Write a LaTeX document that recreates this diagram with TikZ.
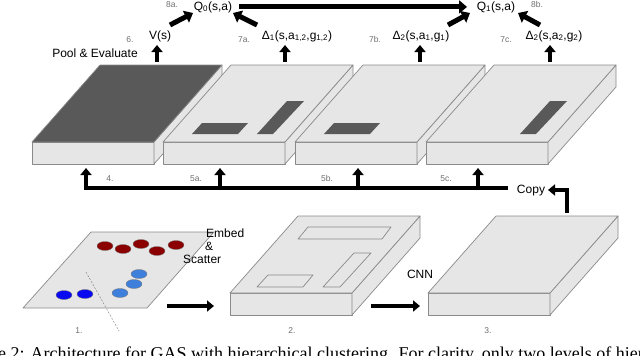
\documentclass[tikz,border=0pt]{standalone}
\usepackage{fontspec}
\setmainfont{Liberation Sans}
\newfontfamily\capfont{Liberation Serif}
\usetikzlibrary{arrows.meta}
\definecolor{facegray}{HTML}{E6E6E6}
\definecolor{edgegray}{HTML}{8A8A8A}
\definecolor{patchgray}{HTML}{595959}
\definecolor{numgray}{HTML}{6E6E6E}
\definecolor{dotred}{HTML}{8B0000}
\definecolor{dotblue}{HTML}{0A0AF0}
\definecolor{dotlblue}{HTML}{3F7FDC}
% slab: #1 front-left x, #2 front-top y, #3 top fill
\newcommand\slab[3]{%
  \filldraw[face] (#1,#2) rectangle ({#1+122},{#2+22});
  \filldraw[face] ({#1+122},#2) -- ({#1+190},{#2-77}) -- ({#1+190},{#2-55}) -- ({#1+122},{#2+22}) -- cycle;
  \filldraw[face,fill=#3] (#1,#2) -- ({#1+122},#2) -- ({#1+190},{#2-77}) -- ({#1+68},{#2-77}) -- cycle;
}
\begin{document}
\begin{tikzpicture}[x=1pt,y=-1pt,
  face/.style={fill=facegray, draw=edgegray, line width=0.7pt, line join=round},
  patch/.style={fill=patchgray},
  outl/.style={draw=edgegray, line width=0.7pt, line join=round},
  lbl/.style={font=\fontsize{12}{14}\selectfont, inner sep=0pt},
  num/.style={font=\fontsize{8.5}{10}\selectfont, text=numgray, inner sep=0pt},
  thk/.style={line width=4pt, line join=miter, -{Triangle[length=7pt,width=11pt]}},
  thkd/.style={line width=5pt, -{Triangle[length=8pt,width=13pt]}},
  dot/.style={draw=black!55, line width=0.3pt}]
\useasboundingbox (0,0) rectangle (640,356);

% ---------- top row of slabs ----------
\slab{32}{142}{patchgray}
\slab{163}{142}{facegray}
\slab{295}{142}{facegray}
\slab{426}{142}{facegray}
\fill[patch] (192,134) -- (238,134) -- (248,123) -- (202,123) -- cycle;
\fill[patch] (257,134) -- (273,134) -- (304,101) -- (287,101) -- cycle;
\fill[patch] (324,134) -- (370,134) -- (380,123) -- (334,123) -- cycle;
\fill[patch] (520,134) -- (536,134) -- (567,101) -- (550,101) -- cycle;

% ---------- bottom row ----------
\filldraw[face] (23,308) -- (147,308) -- (214,232) -- (91,232) -- cycle;
\draw[edgegray, dash pattern=on 2pt off 1.5pt, line width=0.5pt] (86,272) -- (119,331);
\foreach \px/\py in {105/246,123/249,141/244,157/251,176/245}
  \filldraw[dot, fill=dotred] (\px,\py) ellipse [x radius=8, y radius=4.5];
\foreach \px/\py in {64/295,85/294}
  \filldraw[dot, fill=dotblue] (\px,\py) ellipse [x radius=8, y radius=4.5];
\foreach \px/\py in {139/274,134/284,120/293}
  \filldraw[dot, fill=dotlblue] (\px,\py) ellipse [x radius=8, y radius=4.5];

\slab{230}{293}{facegray}
\draw[outl] (298,239) -- (382,239) -- (391,227) -- (308,227) -- cycle;
\draw[outl] (257,287) -- (303,287) -- (313,275) -- (268,275) -- cycle;
\draw[outl] (323,287) -- (340,287) -- (371,253) -- (354,253) -- cycle;
\slab{428}{293}{facegray}

% ---------- labels: top ----------
\node[lbl, anchor=base] (q0) at (213,10) {Q\textsubscript{0}(s,a)};
\node[lbl, anchor=base] (q1) at (496,10) {Q\textsubscript{1}(s,a)};
\node[num, anchor=base] (n8a) at (172,7) {8a.};
\node[num, anchor=base] (n8b) at (537,7) {8b.};
\node[lbl, anchor=base] (vs) at (160,39) {V(s)};
\node[lbl, anchor=base] (d1) at (297,39) {Δ\textsubscript{1}(s,a\textsubscript{1,2},g\textsubscript{1,2})};
\node[lbl, anchor=base] (d2) at (421,39) {Δ\textsubscript{2}(s,a\textsubscript{1},g\textsubscript{1})};
\node[lbl, anchor=base] (d3) at (554,39) {Δ\textsubscript{2}(s,a\textsubscript{2},g\textsubscript{2})};
\node[num, anchor=base] (n6) at (130,42) {6.};
\node[num, anchor=base] (n7a) at (244,42) {7a.};
\node[num, anchor=base] (n7b) at (375,42) {7b.};
\node[num, anchor=base] (n7c) at (506,42) {7c.};
\node[lbl, anchor=base] (pool) at (95,57) {Pool \& Evaluate};

% top arrows
\coordinate (t1) at (157,62); \coordinate (t2) at (285,62);
\coordinate (t3) at (420,62); \coordinate (t4) at (550,62);
\foreach \c in {t1,t2,t3,t4} \draw[thk] (\c) -- ++(0,-17);
\coordinate (va) at (170,25); \coordinate (vb) at (193,13);
\coordinate (da) at (257,25); \coordinate (db) at (233,13);
\coordinate (ea) at (448,25); \coordinate (eb) at (470,13);
\coordinate (fa) at (540,25); \coordinate (fb) at (518,13);
\draw[thkd] (va) -- (vb);
\draw[thkd] (da) -- (db);
\draw[thkd] (ea) -- (eb);
\draw[thkd] (fa) -- (fb);
\draw[thkd] (q0.east) ++(7,0) coordinate (qa) -- (467,0 |- qa) coordinate (qb);

% ---------- middle bar ----------
\node[lbl, anchor=base] (copy) at (531,193) {Copy};
\coordinate (c3) at (567,213);
\draw[thk] (c3) -- (567,190) -- (548,190);
\draw[thk] (508,188) -- (86,188) -- (86,168);
\foreach \xx in {220,358,478} \draw[thk] (\xx,190) -- (\xx,168);
\node[num, anchor=base] (n4) at (110,181) {4.};
\node[num, anchor=base] (n5a) at (196,181) {5a.};
\node[num, anchor=base] (n5b) at (327,181) {5b.};
\node[num, anchor=base] (n5c) at (446,181) {5c.};

% ---------- bottom labels ----------
\node[lbl, anchor=base west, align=left] (embed) at (183,263) {\hspace*{23pt}Embed\\[-1pt]\hspace*{22pt}\&\\[-1pt]Scatter};
\draw[thk] (167,306) -- (214,306);
\node[lbl, anchor=base] (cnn) at (420,278) {CNN};
\draw[thk] (371,306) -- (420,306);
\node[num, anchor=base] (n1) at (79,333) {1.};
\node[num, anchor=base] (n2) at (292,333) {2.};
\node[num, anchor=base] (n3) at (488,333) {3.};

% ---------- caption (cut by the page edge) ----------
\begin{scope}
\clip (0,0) rectangle (640,356);
\node[anchor=base west, inner sep=0pt, font=\capfont\fontsize{18}{20}\selectfont] (caption) at (-41,359)
  {Figure 2: Architecture for GAS with hierarchical clustering. For clarity, only two levels of hierarchy are shown.};
\end{scope}
\end{tikzpicture}
\end{document}
